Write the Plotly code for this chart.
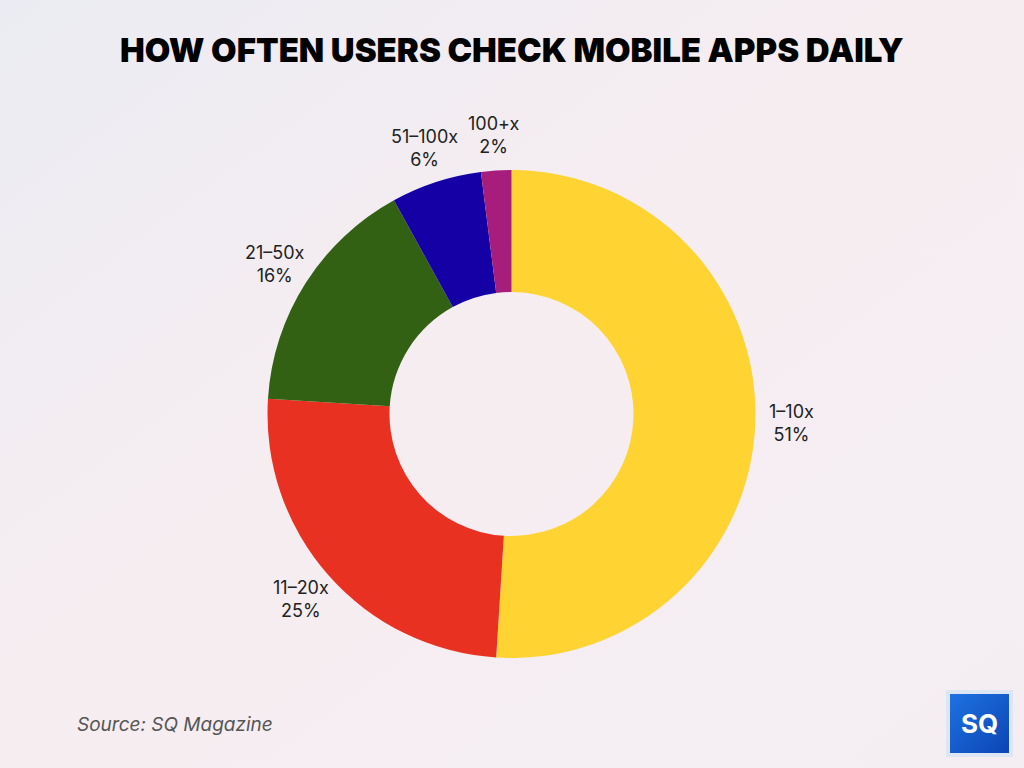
import base64
import math
import plotly.graph_objects as go

categories = ["1–10x", "11–20x", "21–50x", "51–100x", "100+x"]
shares = [51, 25, 16, 6, 2]
colors = ["#FED332", "#E83121", "#336114", "#1500A6", "#A61D7C"]

W, H = 1024, 768

bg_svg = f'''<svg xmlns="http://www.w3.org/2000/svg" width="{W}" height="{H}">
<defs><linearGradient id="g" x1="0" y1="0" x2="1" y2="1">
<stop offset="0" stop-color="#EBECF3"/>
<stop offset="0.45" stop-color="#F6EDF1"/>
<stop offset="1" stop-color="#F4EEF2"/>
</linearGradient>
<linearGradient id="b" x1="0" y1="0" x2="1" y2="1">
<stop offset="0" stop-color="#1E72E2"/>
<stop offset="1" stop-color="#0C45B4"/>
</linearGradient></defs>
<rect width="{W}" height="{H}" fill="url(#g)"/>
<rect x="946" y="690" width="67" height="67" fill="#DCE6F5"/>
<rect x="950" y="694" width="59" height="59" fill="url(#b)"/>
</svg>'''
bg_uri = "data:image/svg+xml;base64," + base64.b64encode(bg_svg.encode()).decode()

cx, cy, r = 511.5, 414, 244
label_r = 280

fig = go.Figure(go.Pie(
    labels=categories,
    values=shares,
    marker=dict(colors=colors, line=dict(width=0)),
    hole=0.5,
    sort=False,
    direction="clockwise",
    rotation=0,
    textinfo="none",
    hoverinfo="label+percent",
    showlegend=False,
    domain=dict(x=[(cx - r) / W, (cx + r) / W], y=[(H - cy - r) / H, (H - cy + r) / H]),
))

# Slice labels placed outside, at the mid-angle of each slice
total = sum(shares)
annotations = []
cum = 0
for cat, v in zip(categories, shares):
    mid = (cum + v / 2) / total * 2 * math.pi
    cum += v
    x = cx + label_r * math.sin(mid)
    y = cy - label_r * math.cos(mid)
    annotations.append(dict(
        text=f"{cat}<br>{round(v / total * 100)}%", x=x / W, y=1 - y / H,
        xref="paper", yref="paper", showarrow=False, xanchor="center", yanchor="middle",
        align="center",
        font=dict(family="Inter, Lato, sans-serif", size=18, color="#222222")))

annotations += [
    dict(text="HOW OFTEN USERS CHECK MOBILE APPS DAILY", x=0.5, y=1 - 50 / H,
         xref="paper", yref="paper", showarrow=False, xanchor="center", yanchor="middle",
         font=dict(family="Inter, Roboto, sans-serif", size=33, color="#000000", weight=900)),
    dict(text="<i>Source: SQ Magazine</i>", x=75 / W, y=1 - 724 / H,
         xref="paper", yref="paper", showarrow=False, xanchor="left", yanchor="middle",
         font=dict(family="Inter, Lato, sans-serif", size=19, color="#555555")),
    dict(text="<b>SQ</b>", x=979.5 / W, y=1 - 723 / H,
         xref="paper", yref="paper", showarrow=False, xanchor="center", yanchor="middle",
         font=dict(family="Inter, Roboto, sans-serif", size=26, color="#FFFFFF")),
]

fig.update_layout(
    width=W, height=H,
    margin=dict(l=0, r=0, t=0, b=0),
    paper_bgcolor="#F4EEF2",
    images=[dict(source=bg_uri, xref="paper", yref="paper", x=0, y=1,
                 sizex=1, sizey=1, xanchor="left", yanchor="top",
                 sizing="stretch", layer="below")],
    annotations=annotations,
)

fig.write_html("out.html")
